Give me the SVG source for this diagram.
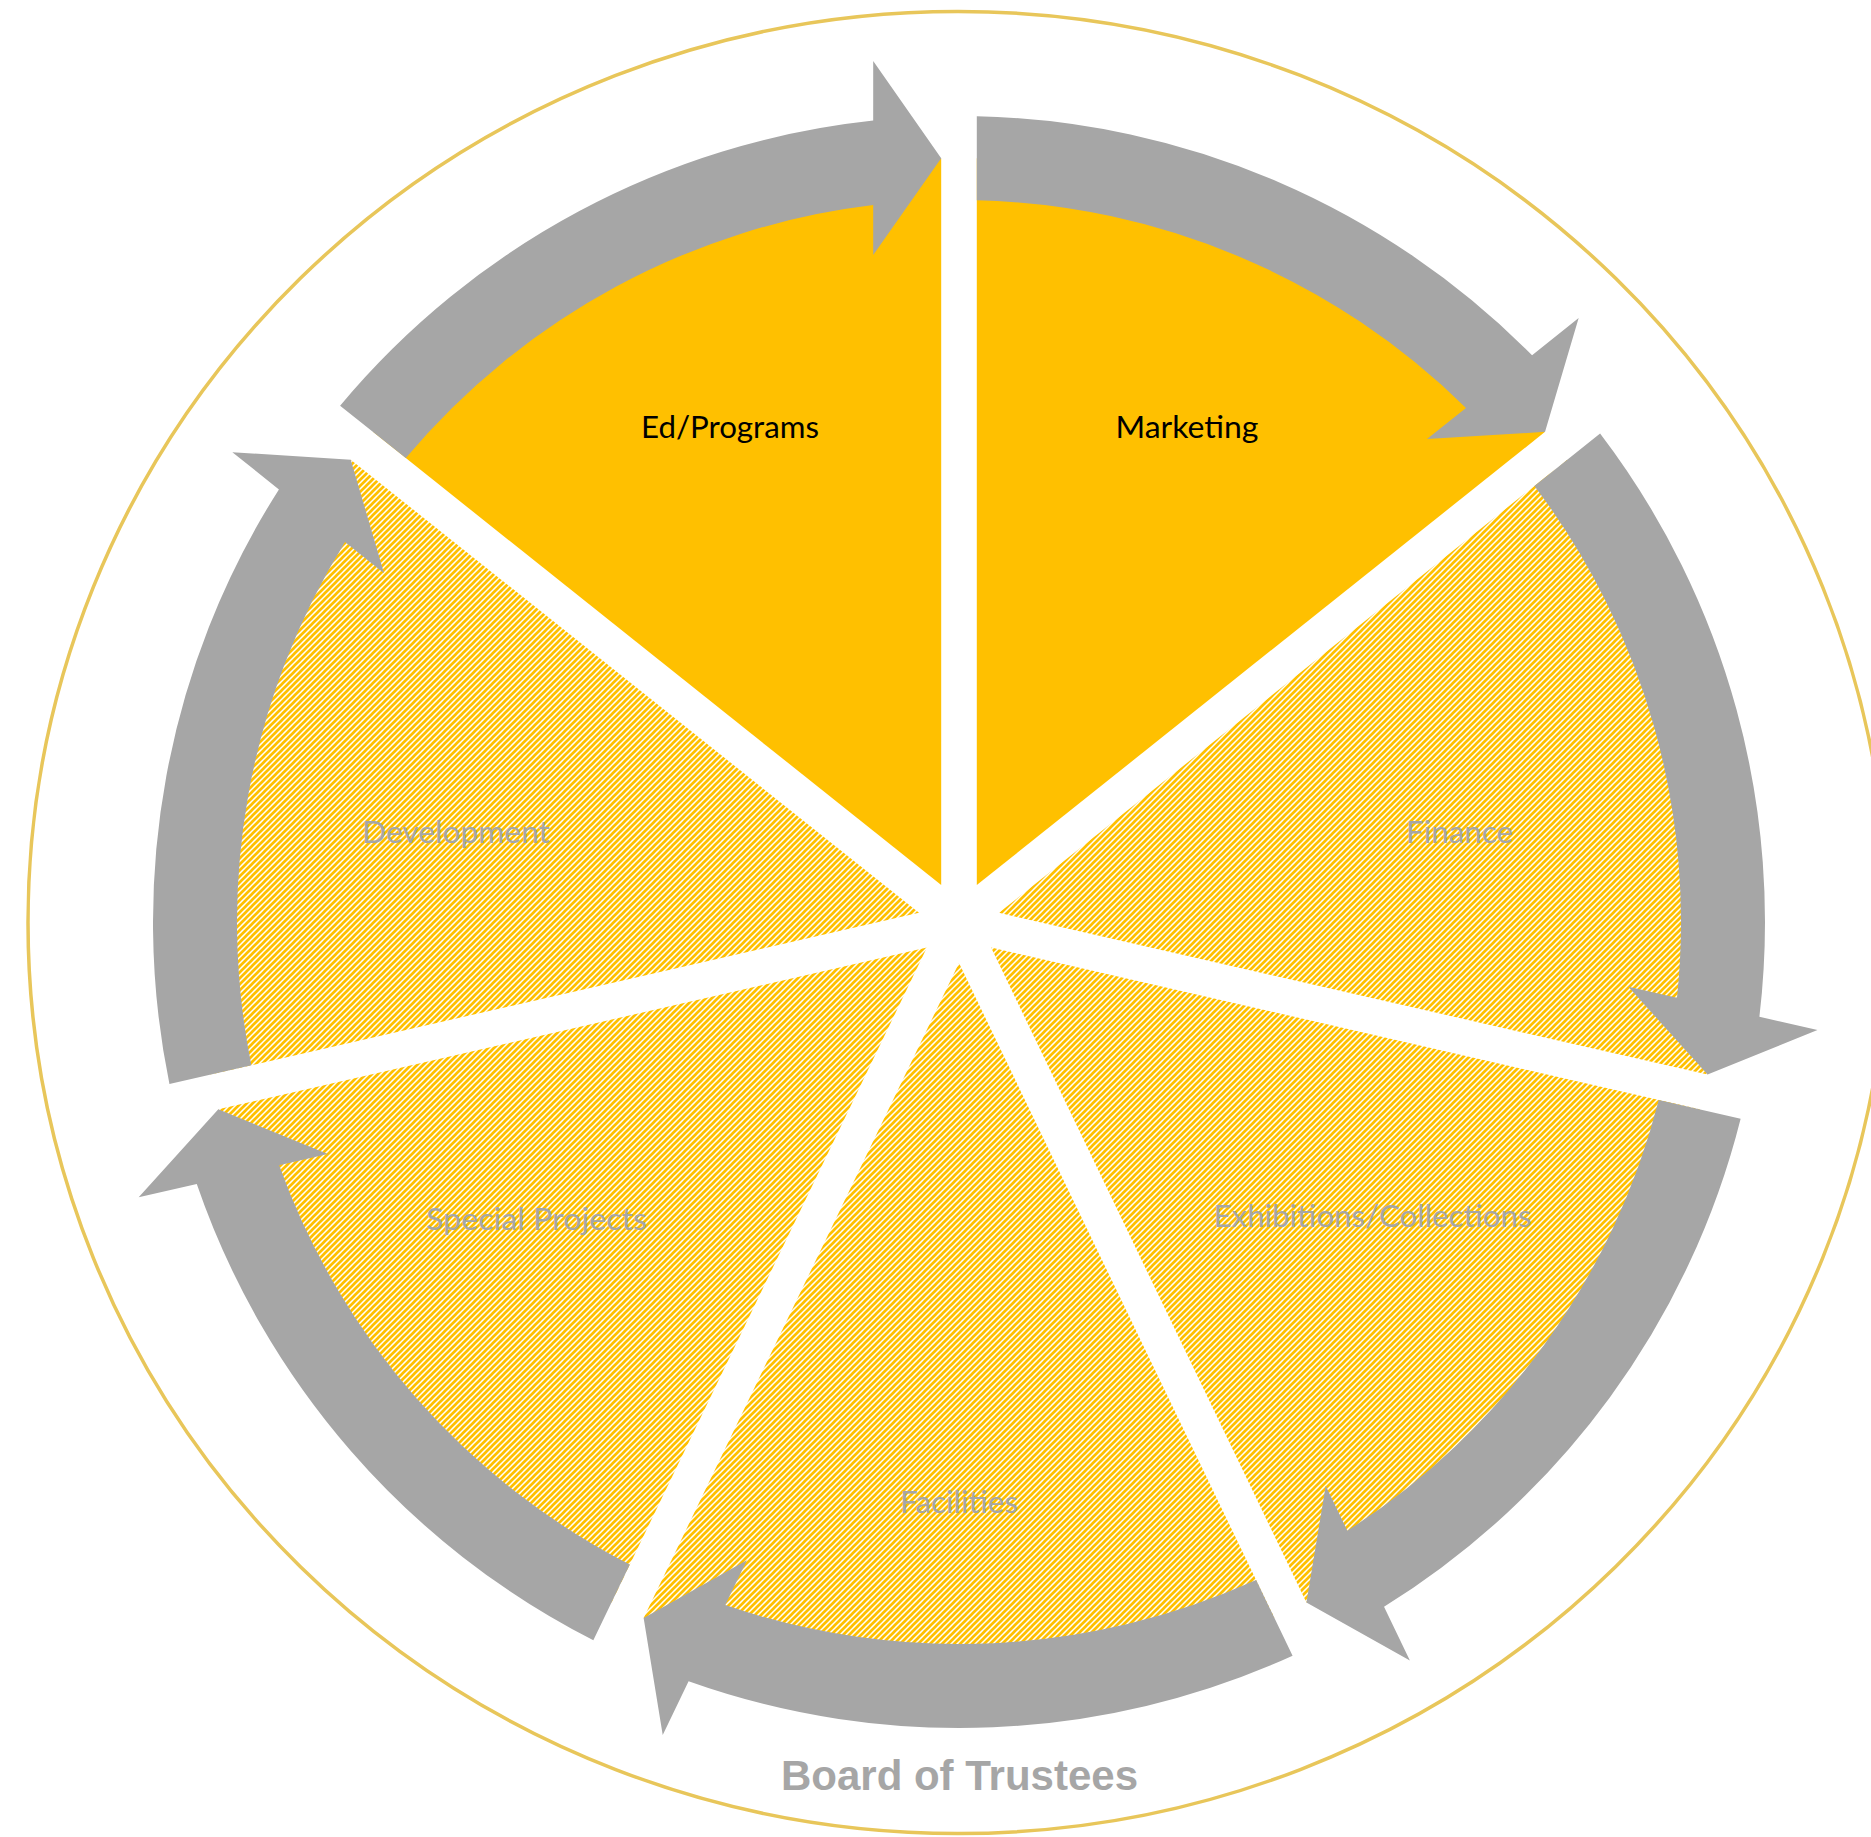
<svg xmlns="http://www.w3.org/2000/svg" xmlns:xlink="http://www.w3.org/1999/xlink" width="1871" height="1837" viewBox="0 0 1871 1837">
  <style>
    .solid { fill: #FFC000; }
    .arrow { fill: #A6A6A6; }
    .lbl { font-family: Lato, "Open Sans", "Liberation Sans", sans-serif; font-size: 30px; text-anchor: middle; }
    .dark { fill: #000000; }
    .muted { fill: #A6A6A6; }
    .title { font-family: "Liberation Sans", Arial, sans-serif; font-weight: bold; font-size: 42px; fill: #A6A6A6; text-anchor: middle; }
  </style>
  <defs>
    <!-- one 1/7 wedge (0deg to 51.43deg clockwise from top), centre 959,922 -->
    <path id="wedge" d="M976.80,885.04 L976.80,158.21 A764,764 0 0,1 1545.06,431.86 Z"/>
    <!-- curved block arrow running along the rim of that wedge -->
    <path id="arc-arrow" d="M976.80,116.20 A806,806 0 0,1 1532.07,355.24 L1578.66,318.10 L1545.06,431.86 L1426.98,439.05 L1465.98,407.95 A722,722 0 0,0 976.80,200.22 Z"/>
    <!-- fine upward-diagonal hatch -->
    <pattern id="hatch" patternUnits="userSpaceOnUse" width="6" height="6">
      <rect width="6" height="6" fill="#FFFFFF"/>
      <path d="M-1.5,1.5 L1.5,-1.5 M-1.5,7.5 L7.5,-1.5 M4.5,7.5 L7.5,4.5" stroke="#FFC000" stroke-width="2.7"/>
    </pattern>
    <clipPath id="clip-finance"><use href="#wedge" transform="rotate(51.428571 959 922)"/></clipPath>
    <clipPath id="clip-exhibitions"><use href="#wedge" transform="rotate(102.857143 959 922)"/></clipPath>
    <clipPath id="clip-facilities"><use href="#wedge" transform="rotate(154.285714 959 922)"/></clipPath>
    <clipPath id="clip-special"><use href="#wedge" transform="rotate(205.714286 959 922)"/></clipPath>
    <clipPath id="clip-development"><use href="#wedge" transform="rotate(257.142857 959 922)"/></clipPath>
  </defs>

  <rect width="1871" height="1837" fill="#FFFFFF"/>

  <!-- outer ring -->
  <ellipse id="frame" cx="958" cy="922.5" rx="930" ry="911" fill="none" stroke="#E8C65A" stroke-width="3.5"/>

  <g id="node-marketing">
    <use href="#wedge" class="solid"/>
    <text class="lbl dark" x="1187" y="438" textLength="143" lengthAdjust="spacingAndGlyphs">Marketing</text>
  </g>
  <g id="node-finance">
    <rect width="1871" height="1837" fill="url(#hatch)" clip-path="url(#clip-finance)"/>
    <text class="lbl muted" x="1459.5" y="843" textLength="107" lengthAdjust="spacingAndGlyphs">Finance</text>
  </g>
  <g id="node-exhibitions">
    <rect width="1871" height="1837" fill="url(#hatch)" clip-path="url(#clip-exhibitions)"/>
    <text class="lbl muted" x="1372.5" y="1227" textLength="318" lengthAdjust="spacingAndGlyphs">Exhibitions/Collections</text>
  </g>
  <g id="node-facilities">
    <rect width="1871" height="1837" fill="url(#hatch)" clip-path="url(#clip-facilities)"/>
    <text class="lbl muted" x="959" y="1513" textLength="118" lengthAdjust="spacingAndGlyphs">Facilities</text>
  </g>
  <g id="node-special-projects">
    <rect width="1871" height="1837" fill="url(#hatch)" clip-path="url(#clip-special)"/>
    <text class="lbl muted" x="536.5" y="1230" textLength="221" lengthAdjust="spacingAndGlyphs">Special Projects</text>
  </g>
  <g id="node-development">
    <rect width="1871" height="1837" fill="url(#hatch)" clip-path="url(#clip-development)"/>
    <text class="lbl muted" x="456" y="843" textLength="188" lengthAdjust="spacingAndGlyphs">Development</text>
  </g>
  <g id="node-ed-programs">
    <use href="#wedge" class="solid" transform="rotate(308.571429 959 922)"/>
    <text class="lbl dark" x="730" y="438" textLength="178" lengthAdjust="spacingAndGlyphs">Ed/Programs</text>
  </g>

  <!-- cycle arrows, one per wedge -->
  <g id="connectors" class="arrow">
    <use href="#arc-arrow"/>
    <use href="#arc-arrow" transform="rotate(51.428571 959 922)"/>
    <use href="#arc-arrow" transform="rotate(102.857143 959 922)"/>
    <use href="#arc-arrow" transform="rotate(154.285714 959 922)"/>
    <use href="#arc-arrow" transform="rotate(205.714286 959 922)"/>
    <use href="#arc-arrow" transform="rotate(257.142857 959 922)"/>
    <use href="#arc-arrow" transform="rotate(308.571429 959 922)"/>
  </g>

  <text id="board-of-trustees" class="title" x="959.5" y="1790">Board of Trustees</text>
</svg>
